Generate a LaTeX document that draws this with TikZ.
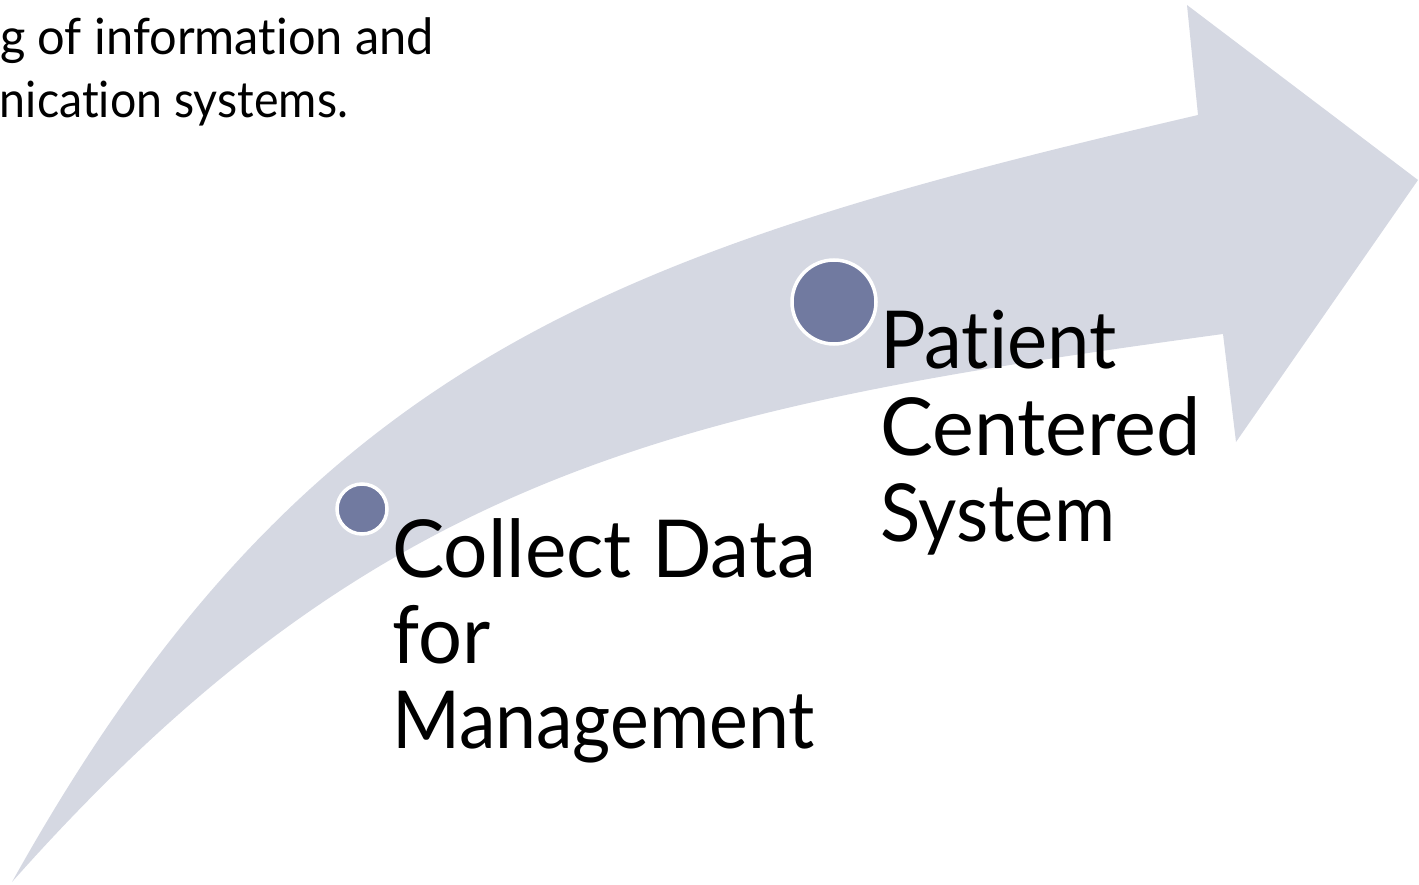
\documentclass[tikz,border=0pt]{standalone}
\usepackage{fontspec}
\setmainfont[Ligatures=NoCommon,RawFeature=-liga]{Lato}
\definecolor{arrowfill}{RGB}{213,216,226}
\definecolor{dotfill}{RGB}{113,122,160}
\newcommand{\sx}[2]{\scalebox{#1}[1]{#2}}
\begin{document}
\begin{tikzpicture}[x=1pt,y=-1pt,
  bigtext/.style={anchor=base west,inner sep=0pt,outer sep=0pt,font=\fontsize{80}{86}\selectfont},
  toptext/.style={anchor=base west,inner sep=0pt,outer sep=0pt,font=\fontsize{50}{63}\selectfont},
  dot/.style={circle,fill=dotfill,draw=white,line width=3.5pt,inner sep=0pt}]
\useasboundingbox (0,0) rectangle (1419,885);
% big curved arrow
\fill[arrowfill] (12,882) .. controls (304,358) and (614,251) .. (1198,115)
  -- (1187,5) -- (1418,180) -- (1236,442) -- (1223,334)
  .. controls (678,408) and (377,471) .. (12,882) -- cycle;
% dots
\node[dot,minimum size=50pt] (d1) at (362,509) {};
\node[dot,minimum size=84pt] (d2) at (834,302) {};
% labels
\node[bigtext] (c1) at (392,577) {\sx{0.98}{Collect Data}};
\node[bigtext] (c2) at (392,663) {\sx{0.97}{for}};
\node[bigtext] (c3) at (392,748) {\sx{0.917}{Management}};
\node[bigtext] (p1) at (880,368) {\sx{0.95}{Patient}};
\node[bigtext] (p2) at (880,455) {\sx{0.99}{Centered}};
\node[bigtext] (p3) at (880,541) {\sx{0.93}{System}};
% top text (cut at the left edge)
\node[toptext] (t1) at (0,55) {\sx{0.975}{g of information and}};
\node[toptext] (t2) at (0,118) {\sx{0.93}{nication systems.}};
\end{tikzpicture}
\end{document}
